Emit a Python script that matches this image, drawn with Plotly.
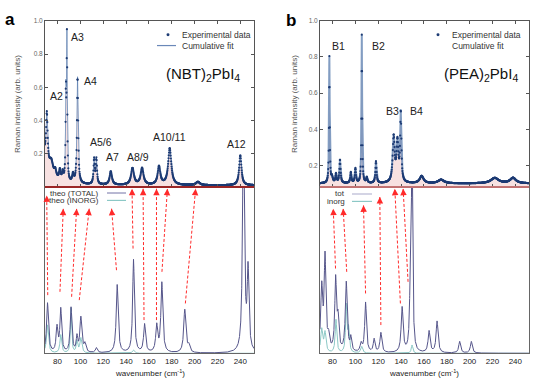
import numpy as np
import plotly.graph_objects as go

# ---- data ----
# (NBT)2PbI4 experimental Raman: Lorentzian components of the cumulative fit
a_exp_pos = [64.0, 70.6, 74.5, 78.0, 82.0, 84.5, 87.3, 88.2, 93.5, 97.5, 112.0, 114.0,
             126.6, 145.6, 154.0, 168.8, 178.2, 202.9, 240.0]
a_exp_amp = [0.35, 0.30, 0.08, 0.04, 0.06, 0.05, 0.50, 0.85, 0.05, 0.64, 0.15, 0.15,
             0.08, 0.10, 0.10, 0.11, 0.22, 0.02, 0.18]
a_exp_wid = [5.0, 0.8, 2.0, 1.0, 0.8, 0.7, 0.35, 0.35, 0.8, 0.6, 0.6, 0.6,
             1.2, 1.5, 1.5, 1.4, 1.6, 2.0, 1.2]
a_exp_base = 0.01

# (PEA)2PbI4 experimental Raman
b_exp_pos = [77.2, 79.5, 83.0, 86.5, 96.0, 100.0, 105.6, 110.0, 118.0, 133.5, 136.8,
             139.7, 158.0, 175.0, 222.0, 238.0]
b_exp_amp = [0.70, 0.03, 0.05, 0.13, 0.06, 0.08, 0.82, 0.03, 0.12, 0.25, 0.22,
             0.38, 0.04, 0.02, 0.03, 0.03]
b_exp_wid = [0.35, 0.8, 0.6, 0.6, 0.6, 0.6, 0.35, 0.6, 0.6, 1.0, 1.0,
             0.6, 2.0, 3.0, 4.0, 3.0]
b_exp_base = 0.10

# theory spectra (relative units)
a_tot_pos = [71.2, 79.5, 82.8, 91.8, 97.0, 100.4, 104.0, 114.0, 132.2, 146.5, 156.2,
             166.8, 171.3, 191.4, 195.0, 242.8, 246.8]
a_tot_amp = [0.30, 0.15, 0.26, 0.27, 0.09, 0.21, 0.05, 0.03, 0.41, 0.56, 0.17,
             0.16, 0.42, 0.26, 0.04, 1.50, 0.48]
a_tot_wid = [1.0, 0.9, 0.9, 0.9, 0.8, 1.0, 1.0, 1.0, 1.0, 0.9, 1.0,
             1.0, 1.0, 1.1, 1.0, 0.9, 0.9]
a_ino_pos = [71.2, 82.8, 91.8, 97.0, 100.4, 146.5]
a_ino_amp = [0.17, 0.11, 0.27, 0.07, 0.09, 0.02]
a_ino_wid = [1.0, 0.9, 0.6, 0.8, 1.0, 1.0]

b_tot_pos = [70.5, 73.4, 76.5, 82.7, 84.8, 92.0, 96.0, 105.0, 108.9, 116.4, 122.3,
             140.9, 148.0, 149.6, 164.5, 171.5, 191.3, 201.5]
b_tot_amp = [0.38, 0.56, 0.08, 0.43, 0.18, 0.42, 0.08, 0.05, 0.30, 0.08, 0.12,
             0.27, 0.30, 1.40, 0.13, 0.19, 0.07, 0.07]
b_tot_wid = [1.0, 0.9, 1.0, 0.9, 0.9, 1.0, 0.8, 1.0, 0.9, 0.9, 1.0,
             1.0, 0.8, 0.6, 1.0, 1.0, 1.0, 1.0]
b_ino_pos = [70.5, 73.4, 83.0, 92.0, 94.0, 105.5, 149.6]
b_ino_amp = [0.14, 0.12, 0.20, 0.28, 0.14, 0.04, 0.05]
b_ino_wid = [1.0, 1.0, 0.8, 0.7, 0.8, 1.0, 0.8]

# peak labels
a_lab = ["A2", "A3", "A4", "A5/6", "A7", "A8/9", "A10/11", "A12"]
a_lab_x = [79.5, 97.5, 109.0, 117.9, 128.0, 150.5, 178.2, 237.0]
a_lab_y = [0.55, 0.905, 0.64, 0.27, 0.18, 0.18, 0.30, 0.26]
b_lab = ["B1", "B2", "B3", "B4"]
b_lab_x = [85.0, 119.9, 132.6, 153.4]
b_lab_y = [0.86, 0.86, 0.50, 0.50]

# arrows: theory peak (tail) -> experimental peak (head), in theory-panel units
a_arr_head_x = [70.5, 85.0, 96.7, 107.7, 127.3, 145.2, 154.9, 166.6, 176.2, 200.9]
a_arr_head_y = [0.95, 0.87, 0.87, 0.87, 0.87, 0.99, 0.99, 0.99, 0.99, 0.99]
a_arr_tail_x = [71.4, 82.1, 92.3, 99.0, 131.6, 146.1, 155.7, 166.6, 171.4, 191.9]
a_arr_tail_y = [0.35, 0.37, 0.34, 0.32, 0.50, 0.63, 0.20, 0.20, 0.49, 0.30]
b_arr_head_x = [80.6, 89.3, 107.1, 121.4, 134.5, 141.8]
b_arr_head_y = [0.87, 0.87, 0.89, 0.94, 0.99, 0.99]
b_arr_tail_x = [82.6, 92.4, 108.9, 122.3, 139.4, 146.1]
b_arr_tail_y = [0.51, 0.49, 0.36, 0.17, 0.30, 0.43]

XR = [69, 252]
W, H = 540, 383


def spectrum(x, pos, amp, wid, base=0.0):
    y = np.full_like(x, base)
    for p, a, w in zip(pos, amp, wid):
        y += a / (1 + ((x - p) / w) ** 2)
    return y


xf = np.arange(69, 252, 0.05)
xd = np.arange(69, 252, 0.2)

fig = go.Figure()

NAVY = "#1d3b74"
FIT = "rgba(90,125,175,0.75)"
PINK = "rgba(236,180,180,0.4)"
TOT = "#55558a"
INO = "#8cc8c6"
RED = "#ff2a2a"

# ---- panel a, experiment ----
fig.add_trace(go.Scatter(x=xf, y=spectrum(xf, a_exp_pos, a_exp_amp, a_exp_wid, a_exp_base),
                         mode="lines", line=dict(color=FIT, width=1), fill="tozeroy",
                         fillcolor=PINK, xaxis="x", yaxis="y"))
fig.add_trace(go.Scatter(x=xd, y=spectrum(xd, a_exp_pos, a_exp_amp, a_exp_wid, a_exp_base),
                         mode="markers", marker=dict(color=NAVY, size=2.2), xaxis="x", yaxis="y"))

# ---- panel a, theory ----
fig.add_trace(go.Scatter(x=xf, y=spectrum(xf, a_ino_pos, a_ino_amp, a_ino_wid),
                         mode="lines", line=dict(color=INO, width=1), xaxis="x2", yaxis="y2"))
fig.add_trace(go.Scatter(x=xf, y=spectrum(xf, a_tot_pos, a_tot_amp, a_tot_wid),
                         mode="lines", line=dict(color=TOT, width=1), xaxis="x2", yaxis="y2"))

# ---- panel b, experiment ----
fig.add_trace(go.Scatter(x=xf, y=spectrum(xf, b_exp_pos, b_exp_amp, b_exp_wid, b_exp_base),
                         mode="lines", line=dict(color=FIT, width=2), fill="tozeroy",
                         fillcolor=PINK, xaxis="x3", yaxis="y3"))
fig.add_trace(go.Scatter(x=xd, y=spectrum(xd, b_exp_pos, b_exp_amp, b_exp_wid, b_exp_base),
                         mode="markers", marker=dict(color=NAVY, size=2.2), xaxis="x3", yaxis="y3"))

# ---- panel b, theory ----
fig.add_trace(go.Scatter(x=xf, y=spectrum(xf, b_ino_pos, b_ino_amp, b_ino_wid),
                         mode="lines", line=dict(color=INO, width=1), xaxis="x4", yaxis="y4"))
fig.add_trace(go.Scatter(x=xf, y=spectrum(xf, b_tot_pos, b_tot_amp, b_tot_wid),
                         mode="lines", line=dict(color=TOT, width=1), xaxis="x4", yaxis="y4"))

annotations = []
sx = 209 / (XR[1] - XR[0])
sy = 168.0


def add_arrows(hx, hy, tx, ty, xa, ya):
    for x0, y0, x1, y1 in zip(tx, ty, hx, hy):
        fig.add_trace(go.Scatter(x=[x0, x1], y=[y0, y1], mode="lines",
                                 line=dict(color=RED, width=1, dash="3px,2px"),
                                 xaxis=xa, yaxis=ya))
        dx = (x0 - x1) * sx
        dy = (y1 - y0) * sy
        n = float(np.hypot(dx, dy))
        annotations.append(dict(x=x1, y=y1, xref=xa, yref=ya, text="", showarrow=True,
                                ax=float(dx / n * 6), ay=float(dy / n * 6), arrowhead=2,
                                arrowsize=1.3, arrowwidth=1, arrowcolor=RED))


add_arrows(a_arr_head_x, a_arr_head_y, a_arr_tail_x, a_arr_tail_y, "x2", "y2")
add_arrows(b_arr_head_x, b_arr_head_y, b_arr_tail_x, b_arr_tail_y, "x4", "y4")

for t, x, y in zip(a_lab, a_lab_x, a_lab_y):
    annotations.append(dict(x=x, y=y, xref="x", yref="y", text=t, showarrow=False,
                            font=dict(size=10.5, color="#222")))
for t, x, y in zip(b_lab, b_lab_x, b_lab_y):
    annotations.append(dict(x=x, y=y, xref="x3", yref="y3", text=t, showarrow=False,
                            font=dict(size=10.5, color="#222")))


def pxy(x, y):
    return x / W, 1 - y / H


def txt(x, y, s, size, color="#222", xanchor="center", **kw):
    px, py = pxy(x, y)
    annotations.append(dict(x=px, y=py, xref="paper", yref="paper", text=s, showarrow=False,
                            xanchor=xanchor, yanchor="middle", font=dict(size=size, color=color),
                            **kw))


txt(10, 16, "<b>a</b>", 17, "#000")
txt(291, 17, "<b>b</b>", 17, "#000")
txt(18, 101, "Raman intensity (arb. units)", 8, "#555", textangle=-90)
txt(295, 101, "Raman intensity (arb. units)", 8, "#555", textangle=-90)
txt(180, 31, "Experimental data", 8.5, "#333", xanchor="left")
txt(180, 42, "Cumulative fit", 8.5, "#333", xanchor="left")
txt(450, 31, "Experimental data", 8.5, "#333", xanchor="left")
txt(450, 42, "Cumulative fit", 8.5, "#333", xanchor="left")
txt(203, 71, "(NBT)<sub>2</sub>PbI<sub>4</sub>", 15, "#111")
txt(481, 71, "(PEA)<sub>2</sub>PbI<sub>4</sub>", 15, "#111")
txt(101, 191, "theo (TOTAL)", 8, "#333", xanchor="right")
txt(101, 198.5, "theo (INORG)", 8, "#333", xanchor="right")
txt(347, 192, "tot", 8, "#333", xanchor="right")
txt(347, 199.5, "inorg", 8, "#333", xanchor="right")
txt(150, 373, "wavenumber (cm<sup>-1</sup>)", 8, "#222")
txt(424, 373, "wavenumber (cm<sup>-1</sup>)", 8, "#222")

shapes = []


def seg(x0, y0, x1, y1, color, width=1):
    a0, b0 = pxy(x0, y0)
    a1, b1 = pxy(x1, y1)
    shapes.append(dict(type="line", xref="paper", yref="paper", x0=a0, y0=b0, x1=a1, y1=b1,
                       line=dict(color=color, width=width)))


def dot(x, y, r=1.5):
    a0, b0 = pxy(x - r, y + r)
    a1, b1 = pxy(x + r, y - r)
    shapes.append(dict(type="circle", xref="paper", yref="paper", x0=a0, y0=b0, x1=a1, y1=b1,
                       fillcolor=NAVY, line=dict(width=0)))


seg(157, 42, 176, 42, "#6a88b8", 1.2)
seg(107, 191, 126, 191, "#8a8ab5", 1.2)
seg(107, 198.5, 126, 198.5, INO, 1.2)
seg(352, 192, 372, 192, "#c6c6dc", 1.5)
seg(352, 199.5, 372, 199.5, INO, 1.2)
# baseline of the experimental panels
seg(45, 185, 254, 185, "#9b2626", 2)
seg(320, 185, 529, 185, "#e47a7a", 1.5)
dot(168, 31)
dot(438, 31)

dom_a = [45 / W, 254 / W]
dom_b = [320 / W, 529 / W]
top = [1 - 185 / H, 1 - 17 / H]
bot = [1 - 353 / H, 1 - 185 / H]

top_x = dict(range=XR, showticklabels=False, ticks="inside", ticklen=3, dtick=20, tick0=0,
             showline=True, linecolor="#555", linewidth=1, mirror="ticks", showgrid=False,
             zeroline=False, tickcolor="#555")
top_y = dict(tickvals=[0.2, 0.4, 0.6, 0.8, 1.0], ticktext=["0.2", "0.4", "0.6", "0.8", "1.0"],
             ticks="inside", ticklen=3, showline=True, linecolor="#555", linewidth=1,
             mirror="ticks", showgrid=False, zeroline=False, tickcolor="#555",
             tickfont=dict(size=6.5, color="#666"))
bot_x = dict(range=XR, tickvals=[80, 100, 120, 140, 160, 180, 200, 220, 240],
             showline=True, linecolor="#666", linewidth=1, mirror=True, showgrid=False,
             zeroline=False, tickfont=dict(size=8, color="#222"))
bot_y = dict(range=[0, 1], showticklabels=False, showline=True, linecolor="#666",
             linewidth=1, mirror=True, showgrid=False, zeroline=False)

fig.update_layout(
    width=W, height=H,
    margin=dict(l=0, r=0, t=0, b=0),
    paper_bgcolor="white", plot_bgcolor="white",
    showlegend=False,
    font=dict(family="Liberation Sans, Arial, sans-serif"),
    xaxis=dict(domain=dom_a, anchor="y", **top_x),
    yaxis=dict(domain=top, anchor="x", range=[0, 1.0], **top_y),
    xaxis2=dict(domain=dom_a, anchor="y2", **bot_x),
    yaxis2=dict(domain=bot, anchor="x2", **bot_y),
    xaxis3=dict(domain=dom_b, anchor="y3", **top_x),
    yaxis3=dict(domain=top, anchor="x3", range=[0.08, 1.0], **top_y),
    xaxis4=dict(domain=dom_b, anchor="y4", **bot_x),
    yaxis4=dict(domain=bot, anchor="x4", **bot_y),
    annotations=annotations,
    shapes=shapes,
)

fig.write_html("out.html", config={"displayModeBar": False},
               post_script="document.body.style.margin='0';")
